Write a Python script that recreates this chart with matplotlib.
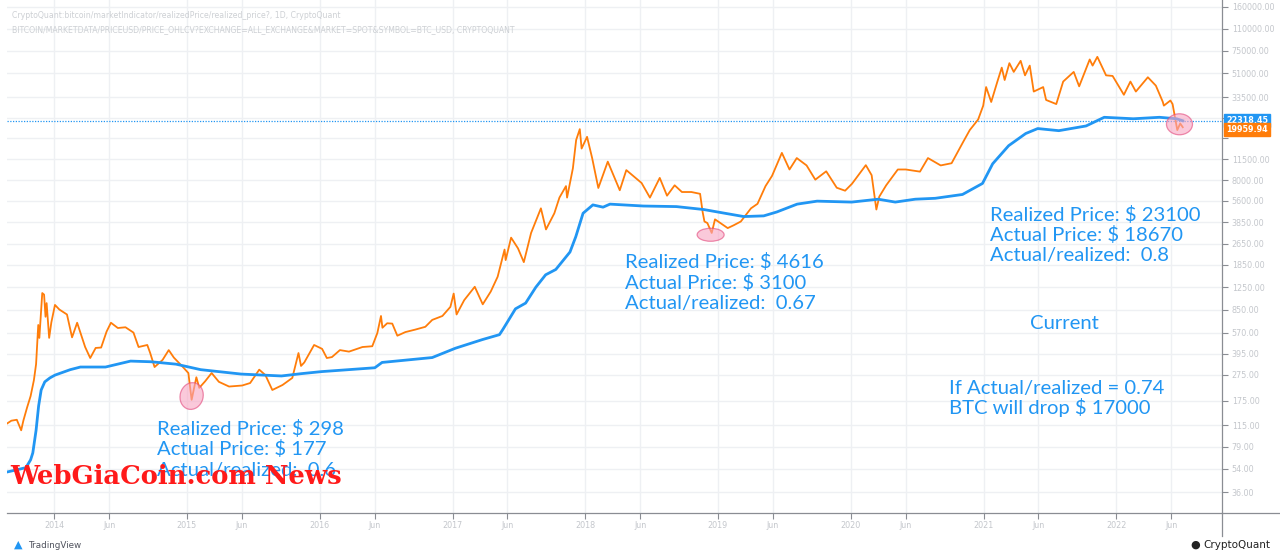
import numpy as np
import pandas as pd
import matplotlib
matplotlib.use('Agg')
import matplotlib.pyplot as plt
import matplotlib.dates as mdates
import matplotlib.transforms as mtransforms
from matplotlib.patches import Ellipse
from matplotlib.lines import Line2D

# BTC price (orange)
price_dates = [
    '2013-08-24', '2013-09-05', '2013-09-20', '2013-10-02', '2013-10-08', '2013-10-18', '2013-10-28',
    '2013-11-06', '2013-11-12', '2013-11-18', '2013-11-21', '2013-11-29', '2013-12-04', '2013-12-08',
    '2013-12-11', '2013-12-18', '2013-12-24', '2014-01-03', '2014-01-15', '2014-02-05', '2014-02-19',
    '2014-03-05', '2014-03-27', '2014-04-10', '2014-04-25', '2014-05-10', '2014-05-25', '2014-06-06',
    '2014-06-25', '2014-07-16', '2014-08-07', '2014-08-21', '2014-09-14', '2014-09-22', '2014-10-04',
    '2014-10-26', '2014-11-12', '2014-11-26', '2014-12-21', '2015-01-05', '2015-01-14', '2015-01-27',
    '2015-02-04', '2015-02-20', '2015-03-10', '2015-03-30', '2015-04-27', '2015-06-02', '2015-06-24',
    '2015-07-19', '2015-08-05', '2015-08-24', '2015-09-21', '2015-10-18', '2015-11-04', '2015-11-11',
    '2015-11-20', '2015-12-17', '2016-01-08', '2016-01-21', '2016-02-04', '2016-02-26', '2016-03-22',
    '2016-04-28', '2016-05-25', '2016-06-08', '2016-06-18', '2016-06-22', '2016-07-05', '2016-07-19',
    '2016-08-02', '2016-08-24', '2016-09-20', '2016-10-18', '2016-11-06', '2016-12-04', '2016-12-26',
    '2017-01-04', '2017-01-12', '2017-02-02', '2017-03-03', '2017-03-25', '2017-04-16', '2017-05-05',
    '2017-05-24', '2017-05-27', '2017-06-11', '2017-06-30', '2017-07-16', '2017-08-05', '2017-09-01',
    '2017-09-15', '2017-10-08', '2017-10-22', '2017-11-09', '2017-11-12', '2017-11-28', '2017-12-07',
    '2017-12-17', '2017-12-22', '2018-01-06', '2018-01-20', '2018-02-06', '2018-03-04', '2018-03-26',
    '2018-04-06', '2018-04-24', '2018-05-15', '2018-06-05', '2018-06-28', '2018-07-25', '2018-08-14',
    '2018-09-04', '2018-09-24', '2018-10-20', '2018-11-13', '2018-11-20', '2018-11-25', '2018-12-03',
    '2018-12-15', '2018-12-24', '2019-01-28', '2019-02-13', '2019-03-05', '2019-04-02', '2019-04-20',
    '2019-05-12', '2019-05-30', '2019-06-26', '2019-07-17', '2019-08-06', '2019-09-02', '2019-09-26',
    '2019-10-26', '2019-11-24', '2019-12-17', '2020-01-05', '2020-02-12', '2020-02-28', '2020-03-12',
    '2020-03-20', '2020-04-08', '2020-04-30', '2020-05-10', '2020-06-01', '2020-07-10', '2020-08-01',
    '2020-09-05', '2020-10-05', '2020-10-21', '2020-11-06', '2020-11-24', '2020-12-17', '2020-12-31',
    '2021-01-08', '2021-01-22', '2021-02-08', '2021-02-20', '2021-02-28', '2021-03-13', '2021-03-25',
    '2021-04-13', '2021-04-25', '2021-05-08', '2021-05-19', '2021-06-14', '2021-06-22', '2021-07-20',
    '2021-08-08', '2021-09-06', '2021-09-21', '2021-10-20', '2021-10-28', '2021-11-10', '2021-12-04',
    '2021-12-22', '2022-01-22', '2022-02-09', '2022-02-24', '2022-03-29', '2022-04-20', '2022-05-09',
    '2022-05-12', '2022-05-30', '2022-06-05', '2022-06-13', '2022-06-18', '2022-06-26', '2022-07-03',
]
price_values = [
    118, 124, 126, 105, 124, 155, 190,
    250, 330, 650, 520, 1130, 1100, 750,
    950, 520, 680, 920, 850, 780, 525,
    676, 444, 367, 437, 440, 580, 676,
    617, 625, 570, 444, 460, 400, 314,
    355, 421, 370, 314, 283, 178, 263,
    219, 245, 283, 243, 224, 228, 238,
    300, 273, 211, 230, 260, 400, 320,
    340, 460, 430, 367, 373, 421, 410,
    444, 450, 566, 760, 620, 670, 666,
    540, 575, 600, 630, 710, 760, 890,
    1120, 780, 1000, 1260, 930, 1160, 1500,
    2400, 2000, 2950, 2450, 1930, 3200, 4900,
    3400, 4500, 5900, 7200, 5900, 9800, 16000,
    19300, 13800, 16900, 11700, 6970, 11000, 7900,
    6700, 9500, 8500, 7600, 5900, 8300, 6100,
    7300, 6500, 6500, 6300, 4600, 3900, 3800,
    3200, 4050, 3480, 3650, 3900, 4900, 5300,
    7200, 8600, 12800, 9600, 11700, 10300, 8050,
    9300, 7000, 6650, 7500, 10350, 8700, 4800,
    6000, 7300, 8800, 9600, 9600, 9250, 11700,
    10300, 10700, 12900, 15500, 19000, 22800, 29000,
    40000, 30900, 44000, 56000, 45200, 60500, 52000,
    63000, 49000, 58000, 37000, 40000, 32000, 29800,
    44000, 52000, 40500, 64500, 58000, 67500, 49000,
    48500, 35000, 44000, 37000, 47400, 41000, 31000,
    29000, 31700, 29800, 22500, 19000, 21300, 19960,
]

# realized price (blue)
realized_dates = [
    '2013-08-24', '2013-09-20', '2013-10-15', '2013-10-28', '2013-11-03', '2013-11-12', '2013-11-19',
    '2013-11-26', '2013-12-06', '2013-12-20', '2014-01-03', '2014-02-14', '2014-03-14', '2014-05-22',
    '2014-07-30', '2014-09-24', '2014-12-02', '2015-02-08', '2015-05-30', '2015-09-18', '2015-11-12',
    '2016-01-06', '2016-06-01', '2016-06-21', '2016-11-06', '2017-01-09', '2017-03-24', '2017-05-10',
    '2017-05-19', '2017-06-23', '2017-07-21', '2017-08-18', '2017-09-14', '2017-10-12', '2017-11-20',
    '2017-12-06', '2017-12-26', '2018-01-22', '2018-02-19', '2018-03-10', '2018-06-10', '2018-09-09',
    '2018-11-23', '2019-01-16', '2019-03-13', '2019-05-07', '2019-06-12', '2019-08-07', '2019-10-01',
    '2020-01-04', '2020-03-17', '2020-05-03', '2020-06-27', '2020-08-21', '2020-11-04', '2020-12-29',
    '2021-01-26', '2021-03-11', '2021-04-27', '2021-05-30', '2021-07-27', '2021-10-10', '2021-11-29',
    '2022-02-17', '2022-04-30', '2022-06-16', '2022-07-03',
]
realized_values = [
    51, 53, 55, 63, 71, 105, 160,
    211, 243, 260, 273, 300, 314, 314,
    348, 344, 330, 300, 278, 269, 280,
    290, 310, 340, 370, 435, 505, 550,
    600, 860, 950, 1250, 1550, 1700, 2300,
    3000, 4500, 5200, 5000, 5270, 5100, 5050,
    4800, 4520, 4250, 4300, 4600, 5270, 5550,
    5460, 5740, 5460, 5740, 5830, 6230, 7540,
    10600, 14500, 17900, 19500, 18800, 20400, 23700,
    23100, 23700, 23100, 22318,
]

last_realized = 22318.45
last_price = 19959.94

y_ticks = [36, 54, 79, 115, 175, 275, 395, 570, 850, 1250, 1850, 2650, 3850, 5600,
           8000, 11500, 16500, 23500, 33500, 51000, 75000, 110000, 160000]
hidden_ticks = [16500, 23500]   # covered by the price labels
x_ticks = ['2014-01-01', '2014-06-01', '2015-01-01', '2015-06-01', '2016-01-01', '2016-06-01',
           '2017-01-01', '2017-06-01', '2018-01-01', '2018-06-01', '2019-01-01', '2019-06-01',
           '2020-01-01', '2020-06-01', '2021-01-01', '2021-06-01', '2022-01-01', '2022-06-01']
x_tick_labels = ['2014', 'Jun', '2015', 'Jun', '2016', 'Jun', '2017', 'Jun', '2018', 'Jun',
                 '2019', 'Jun', '2020', 'Jun', '2021', 'Jun', '2022', 'Jun']

# ellipses marking the lows (date, price)
marks = [('2015-01-14', 190), ('2018-12-12', 3100), ('2022-06-24', 21000)]
mark_sizes = [(23, 27, -15), (27, 13, 0), (26, 21, 0)]

# text blocks: (x px, baseline px of each line, lines)
notes = [
    (157, [435, 455, 476], ['Realized Price: $ 298', 'Actual Price: $ 177', 'Actual/realized:  0.6']),
    (625, [268, 289, 309], ['Realized Price: $ 4616', 'Actual Price: $ 3100', 'Actual/realized:  0.67']),
    (990, [221, 241, 261], ['Realized Price: $ 23100', 'Actual Price: $ 18670', 'Actual/realized:  0.8']),
    (1030, [329], ['Current']),
    (949, [394, 414], ['If Actual/realized = 0.74', 'BTC will drop $ 17000']),
]

# colours
BLUE = '#2196f3'
ORANGE = '#ff7d0a'
GRID = '#eef0f3'
AXC = '#8a8d93'
TXT = '#c4c7cc'

W, H = 1280, 557
fig = plt.figure(figsize=(W / 100, H / 100), dpi=100)
ax = fig.add_axes([7 / W, 1 - 513 / H, (1222 - 7) / W, 513 / H])

pd_price = pd.to_datetime(price_dates)
pd_real = pd.to_datetime(realized_dates)

ax.set_yscale('log')
ax.set_ylim(25.08, 180600)
ax.set_xlim(pd.Timestamp('2013-08-24'), pd.Timestamp('2022-10-19'))

ax.plot(pd_price, price_values, color=ORANGE, lw=1.3, zorder=3)
ax.plot(pd_real, realized_values, color=BLUE, lw=2.0, zorder=4)
ax.axhline(last_realized, color=BLUE, lw=0.9, ls=(0, (1, 1.2)), zorder=2)

# grid + ticks
ax.set_yticks(y_ticks)
ax.set_yticklabels(['' if v in hidden_ticks else '%.2f' % v for v in y_ticks])
ax.yaxis.set_minor_locator(matplotlib.ticker.NullLocator())
ax.set_xticks(pd.to_datetime(x_ticks))
ax.set_xticklabels(x_tick_labels)
ax.grid(True, color=GRID, lw=1.0, zorder=0)
ax.yaxis.tick_right()
ax.tick_params(axis='y', which='major', length=4, width=0.8, color=AXC, labelsize=5.8,
               labelcolor=TXT, pad=3)
ax.tick_params(axis='x', length=4, width=0.8, color=AXC, labelsize=5.8, labelcolor=TXT, pad=2)
for s in ['top', 'left']:
    ax.spines[s].set_visible(False)
for s in ['right', 'bottom']:
    ax.spines[s].set_color(AXC)
    ax.spines[s].set_linewidth(0.9)

# axis extensions like the TradingView frame
fig.add_artist(Line2D([1222 / W, 1222 / W], [1 - 513 / H, 1 - 536 / H], color=AXC, lw=0.9))
fig.add_artist(Line2D([1222 / W, 1.0], [1 - 513 / H, 1 - 513 / H], color=AXC, lw=0.9))

# price labels on the right axis
for val, col, off in [(last_realized, BLUE, 0), (last_price, ORANGE, -1.5)]:
    ax.annotate('%.2f' % val, xy=(1.0, val), xycoords=('axes fraction', 'data'),
                xytext=(3, off), textcoords='offset points', ha='left', va='center',
                fontsize=5.8, color='white', fontweight='bold', zorder=10,
                bbox=dict(boxstyle='square,pad=0.25', fc=col, ec=col), annotation_clip=False)

# ellipses
fig.canvas.draw()
for (d, v), (w, h, ang) in zip(marks, mark_sizes):
    cx, cy = ax.transData.transform((mdates.date2num(pd.Timestamp(d)), v))
    e = Ellipse((cx, cy), w, h, angle=ang, transform=mtransforms.IdentityTransform(),
                fc='#f8a5c2', ec='#e2457a', lw=0.9, alpha=0.6, zorder=6)
    ax.add_patch(e)

# annotation blocks
for x0, bases, lines in notes:
    for yb, line in zip(bases, lines):
        fig.text(x0 / W, 1 - yb / H, line, color=BLUE, fontsize=14.6, family='Lato',
                 ha='left', va='baseline', zorder=7)

# header
fig.text(12 / W, 1 - 16 / H, 'CryptoQuant:bitcoin/marketIndicator/realizedPrice/realized_price?, 1D, CryptoQuant',
         fontsize=5.6, color='#cdd0d4', va='center')
fig.text(12 / W, 1 - 30 / H,
         'BITCOIN/MARKETDATA/PRICEUSD/PRICE_OHLCV?EXCHANGE=ALL_EXCHANGE&MARKET=SPOT&SYMBOL=BTC_USD, CRYPTOQUANT',
         fontsize=5.6, color='#cdd0d4', va='center')

# watermark
fig.text(10 / W, 1 - 477 / H, 'WebGiaCoin.com News', fontsize=18.6, color='#ff1a1a',
         family='DejaVu Serif', fontweight='heavy', va='center', ha='left', zorder=20)

# footer logos
fig.text(14 / W, 1 - 545 / H, '\u25b2', fontsize=8, color=BLUE, va='center')
fig.text(28 / W, 1 - 545 / H, 'TradingView', fontsize=6.3, color='#50535e', va='center')
fig.text(1190 / W, 1 - 545 / H, '\u25cf', fontsize=8, color='#222222', va='center')
fig.text(1203 / W, 1 - 545 / H, 'CryptoQuant', fontsize=7.5, color='#222222', va='center')

plt.savefig('out.png', dpi=100)
